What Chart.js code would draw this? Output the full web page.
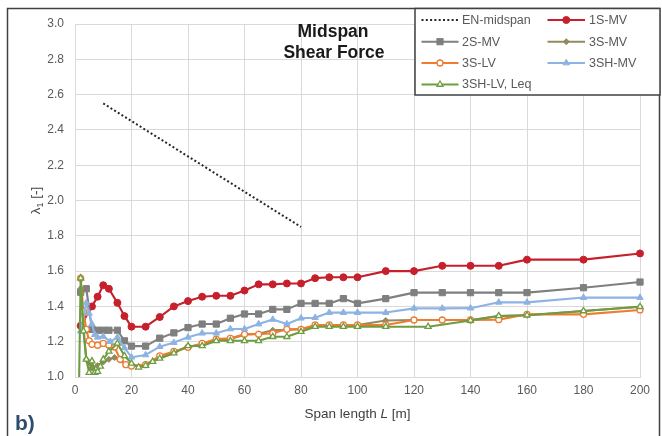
<!DOCTYPE html>
<html>
<head>
<meta charset="utf-8">
<script src="https://cdn.jsdelivr.net/npm/chart.js@4/dist/chart.umd.min.js"></script>
<style>
html,body{margin:0;padding:0;background:#fff;}
canvas{display:block;}
</style>
</head>
<body>
<canvas id="c" width="662" height="436"></canvas>
<script>
// ---------------- DATA ----------------
const L_EN = [10, 80];
const V_EN = [2.55, 1.85];

const L_1S_MV = [2, 6, 8, 10, 12, 15, 17.5, 20, 25, 30, 35, 40, 45, 50, 55, 60, 65, 70, 75, 80, 85, 90, 95, 100, 110, 120, 130, 140, 150, 160, 180, 200];
const V_1S_MV = [1.29, 1.40, 1.455, 1.52, 1.50, 1.42, 1.345, 1.285, 1.285, 1.34, 1.40, 1.43, 1.455, 1.46, 1.46, 1.49, 1.525, 1.525, 1.53, 1.53, 1.56, 1.565, 1.565, 1.565, 1.60, 1.60, 1.63, 1.63, 1.63, 1.665, 1.665, 1.70];

const L_2S_MV = [2, 4, 6, 8, 10, 12, 15, 17.5, 20, 25, 30, 35, 40, 45, 50, 55, 60, 65, 70, 75, 80, 85, 90, 95, 100, 110, 120, 130, 140, 150, 160, 180, 200];
const V_2S_MV = [1.48, 1.50, 1.27, 1.265, 1.265, 1.265, 1.265, 1.205, 1.175, 1.175, 1.22, 1.25, 1.28, 1.30, 1.30, 1.333, 1.357, 1.357, 1.383, 1.383, 1.417, 1.417, 1.417, 1.444, 1.417, 1.444, 1.478, 1.478, 1.478, 1.478, 1.478, 1.506, 1.538];

const L_3S_MV = [2, 3, 4, 5, 6, 8, 10, 12, 14, 16, 18, 20, 25, 30, 35, 40, 45, 50, 55, 60, 65, 70, 75, 80, 85, 90, 95, 100, 110, 120, 130, 140, 150, 160, 180, 200];
const V_3S_MV = [1.50, 1.28, 1.10, 1.08, 1.05, 1.065, 1.085, 1.10, 1.11, 1.095, 1.072, 1.062, 1.068, 1.115, 1.14, 1.17, 1.185, 1.21, 1.215, 1.24, 1.245, 1.265, 1.268, 1.272, 1.29, 1.295, 1.295, 1.295, 1.32, 1.323, 1.323, 1.323, 1.346, 1.35, 1.374, 1.398];

const L_3S_LV = [2, 3, 4, 5, 6, 8, 10, 12, 14, 16, 18, 20, 25, 30, 35, 40, 45, 50, 55, 60, 65, 70, 75, 80, 85, 90, 95, 100, 110, 120, 130, 140, 150, 160, 180, 200];
const V_3S_LV = [1.56, 1.37, 1.27, 1.205, 1.185, 1.18, 1.19, 1.18, 1.17, 1.10, 1.07, 1.062, 1.07, 1.12, 1.145, 1.168, 1.19, 1.215, 1.219, 1.242, 1.242, 1.248, 1.27, 1.27, 1.295, 1.295, 1.295, 1.295, 1.295, 1.323, 1.323, 1.323, 1.325, 1.355, 1.355, 1.38];

const L_3SH_MV = [2, 4, 5, 6, 7, 8, 10, 12.5, 15, 17.5, 20, 25, 30, 35, 40, 45, 50, 55, 60, 65, 70, 75, 80, 85, 90, 95, 100, 110, 120, 130, 140, 150, 160, 180, 200];
const V_3SH_MV = [1.26, 1.42, 1.36, 1.30, 1.24, 1.225, 1.23, 1.20, 1.225, 1.165, 1.112, 1.125, 1.172, 1.195, 1.225, 1.248, 1.248, 1.272, 1.272, 1.30, 1.326, 1.30, 1.333, 1.336, 1.365, 1.365, 1.365, 1.365, 1.389, 1.389, 1.39, 1.423, 1.423, 1.45, 1.45];

const L_3SH_LV = [1, 2, 3, 4, 5, 6, 7, 8, 9, 10, 12, 15, 17.5, 20, 22.5, 25, 27.5, 30, 35, 40, 45, 50, 55, 60, 65, 70, 75, 80, 85, 90, 95, 100, 110, 125, 140, 150, 160, 180, 200];
const V_3SH_LV = [0.5, 1.56, 1.26, 1.10, 1.025, 1.09, 1.025, 1.03, 1.06, 1.10, 1.145, 1.19, 1.12, 1.077, 1.055, 1.065, 1.087, 1.105, 1.135, 1.176, 1.176, 1.205, 1.205, 1.205, 1.205, 1.228, 1.228, 1.257, 1.285, 1.285, 1.285, 1.285, 1.285, 1.285, 1.32, 1.346, 1.35, 1.374, 1.398];

const TITLE_LINES = ['Midspan', 'Shear Force'];
const X_TITLE = ['Span length ', 'L', ' [m]'];
const Y_TITLE = ['λ', '1', ' [-]'];
const PANEL_LABEL = 'b)';

// ---------------- STYLE ----------------
const FONT = '"Liberation Sans", Arial, sans-serif';
const series = [
  {label: 'EN-midspan', L: L_EN, V: V_EN, color: '#262626', dash: [2, 2.3], width: 2, pointStyle: false, radius: 0},
  {label: '1S-MV', L: L_1S_MV, V: V_1S_MV, color: '#c5202b', width: 2.1, pointStyle: 'circle', radius: 3.5, fill: '#c5202b'},
  {label: '2S-MV', L: L_2S_MV, V: V_2S_MV, color: '#7f7f7f', width: 2.1, pointStyle: 'rect', radius: 4.4, fill: '#7f7f7f'},
  {label: '3S-MV', L: L_3S_MV, V: V_3S_MV, color: '#938a5e', width: 2.1, pointStyle: 'rectRot', radius: 3.0, fill: '#938a5e'},
  {label: '3S-LV', L: L_3S_LV, V: V_3S_LV, color: '#ed7d31', width: 2.1, pointStyle: 'circle', radius: 3.0, fill: '#ffffff', bw: 1.3},
  {label: '3SH-MV', L: L_3SH_MV, V: V_3SH_MV, color: '#8db3e2', width: 2.1, pointStyle: 'triangle', radius: 3.7, fill: '#8db3e2'},
  {label: '3SH-LV, Leq', L: L_3SH_LV, V: V_3SH_LV, color: '#6e9c40', width: 2.1, pointStyle: 'triangle', radius: 3.5, fill: '#ffffff', bw: 1.3}
];

const datasets = series.map((s, i) => ({
  label: s.label,
  data: s.L.map((x, k) => ({x: x, y: s.V[k]})),
  showLine: true,
  borderColor: s.color,
  backgroundColor: s.fill || s.color,
  borderWidth: s.width,
  borderDash: s.dash || [],
  borderCapStyle: 'butt',
  borderJoinStyle: 'round',
  pointStyle: s.pointStyle,
  pointRadius: s.radius,
  pointBackgroundColor: s.fill || s.color,
  pointBorderColor: s.color,
  pointBorderWidth: s.bw || 1,
  tension: 0,
  order: series.length - i,
  clip: {left: 6, top: 6, right: 8, bottom: 0}
}));

const deco = {
  id: 'deco',
  afterDraw(chart) {
    const ctx = chart.ctx;
    const a = chart.chartArea;
    ctx.save();
    // title
    ctx.fillStyle = '#1a1a1a';
    ctx.font = 'bold 17.5px ' + FONT;
    ctx.textAlign = 'center';
    ctx.textBaseline = 'alphabetic';
    ctx.fillText(TITLE_LINES[0], 333, 36.7);
    ctx.fillText(TITLE_LINES[1], 334, 58.3);

    // x title with italic L
    const fN = '13.5px ' + FONT, fI = 'italic 13.5px ' + FONT;
    ctx.fillStyle = '#404040';
    ctx.textAlign = 'left';
    ctx.font = fN; const w0 = ctx.measureText(X_TITLE[0]).width;
    ctx.font = fI; const w1 = ctx.measureText(X_TITLE[1]).width;
    ctx.font = fN; const w2 = ctx.measureText(X_TITLE[2]).width;
    let xs = (a.left + a.right) / 2 - (w0 + w1 + w2) / 2;
    const yb = 418;
    ctx.font = fN; ctx.fillText(X_TITLE[0], xs, yb);
    ctx.font = fI; ctx.fillText(X_TITLE[1], xs + w0, yb);
    ctx.font = fN; ctx.fillText(X_TITLE[2], xs + w0 + w1, yb);

    // y title rotated with subscript
    ctx.save();
    ctx.translate(40, (a.top + a.bottom) / 2);
    ctx.rotate(-Math.PI / 2);
    ctx.font = fN; const u0 = ctx.measureText(Y_TITLE[0]).width;
    ctx.font = '9px ' + FONT; const u1 = ctx.measureText(Y_TITLE[1]).width;
    ctx.font = fN; const u2 = ctx.measureText(Y_TITLE[2]).width;
    let ys = -(u0 + u1 + u2) / 2;
    ctx.font = fN; ctx.fillText(Y_TITLE[0], ys, 0);
    ctx.font = '9px ' + FONT; ctx.fillText(Y_TITLE[1], ys + u0, 3);
    ctx.font = fN; ctx.fillText(Y_TITLE[2], ys + u0 + u1, 0);
    ctx.restore();

    // panel label
    ctx.fillStyle = '#2f4d6b';
    ctx.font = 'bold 21px ' + FONT;
    ctx.textAlign = 'left';
    ctx.fillText(PANEL_LABEL, 15, 430);

    // outer frame
    ctx.strokeStyle = '#404040';
    ctx.lineWidth = 1.5;
    ctx.strokeRect(7.5, 8.5, 652, 440);

    // legend box
    ctx.fillStyle = '#ffffff';
    ctx.fillRect(415, 8.5, 245, 86.5);
    ctx.strokeStyle = '#404040';
    ctx.lineWidth = 1.5;
    ctx.strokeRect(415, 8.5, 245, 86.5);

    const cols = [{x0: 421.5, x1: 458.5, tx: 462}, {x0: 547.5, x1: 585, tx: 589}];
    const rowY = [20, 41.7, 63, 84.5];
    ctx.font = '12.5px ' + FONT;
    ctx.textBaseline = 'middle';
    series.forEach((s, i) => {
      const c = cols[i % 2], yy = rowY[Math.floor(i / 2)];
      ctx.save();
      ctx.strokeStyle = s.color;
      ctx.lineWidth = s.width;
      ctx.lineCap = 'butt';
      ctx.setLineDash(s.dash || []);
      ctx.beginPath(); ctx.moveTo(c.x0, yy); ctx.lineTo(c.x1, yy); ctx.stroke();
      ctx.setLineDash([]);
      if (s.pointStyle) {
        ctx.fillStyle = s.fill || s.color;
        ctx.strokeStyle = s.color;
        ctx.lineWidth = s.bw || 1;
        Chart.helpers.drawPoint(ctx, {pointStyle: s.pointStyle, radius: s.radius, rotation: 0, borderWidth: s.bw || 1}, (c.x0 + c.x1) / 2, yy);
      }
      ctx.restore();
      ctx.fillStyle = '#595959';
      ctx.textAlign = 'left';
      ctx.fillText(s.label, c.tx, yy + 0.5);
    });
    ctx.restore();
  }
};

const tickFont = {family: '"Liberation Sans", Arial, sans-serif', size: 12};
new Chart(document.getElementById('c').getContext('2d'), {
  type: 'scatter',
  data: {datasets: datasets},
  options: {
    responsive: false,
    animation: false,
    devicePixelRatio: 1,
    layout: {padding: {top: 24, right: 22, left: 0, bottom: 0}},
    plugins: {legend: {display: false}, tooltip: {enabled: false}, title: {display: false}},
    scales: {
      x: {
        type: 'linear', min: 0, max: 200,
        ticks: {stepSize: 20, padding: 6, color: '#595959', font: tickFont, maxRotation: 0},
        grid: {color: '#d9d9d9', lineWidth: 1, drawTicks: false},
        border: {display: true, color: '#d9d9d9'},
        afterFit: s => { s.height = 59; }
      },
      y: {
        type: 'linear', min: 1, max: 3,
        ticks: {stepSize: 0.2, padding: 11, color: '#595959', font: tickFont, callback: v => Number(v).toFixed(1)},
        grid: {color: '#d9d9d9', lineWidth: 1, drawTicks: false},
        border: {display: true, color: '#d9d9d9'},
        afterFit: s => { s.width = 75; }
      }
    }
  },
  plugins: [deco]
});
</script>
</body>
</html>
